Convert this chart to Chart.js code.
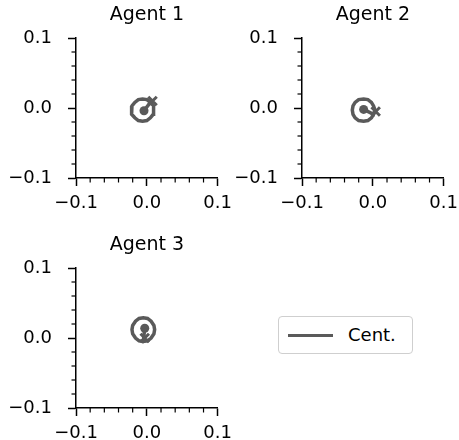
<!DOCTYPE html>
<html>
<head>
<meta charset="utf-8">
<script src="https://cdn.jsdelivr.net/npm/chart.js@4"></script>
<style>
  body { margin: 0; background: #fff; }
  #wrap { position: relative; width: 459px; height: 440px; overflow: hidden; font-family: "DejaVu Sans", sans-serif; }
  .panel { position: absolute; width: 239px; height: 220px; }
  #legend {
    position: absolute; left: 278px; top: 316px; width: 133px; height: 36px;
    border: 1px solid #cfcfcf; border-radius: 4px; background: #fff;
  }
  #legend .swatch { position: absolute; left: 9px; top: 17px; width: 45px; height: 3px; background: #5a5a5a; }
  #legend .label { position: absolute; left: 69px; top: 7px; font-size: 18px; color: #000; }
</style>
</head>
<body>
<div id="wrap">
  <div class="panel" style="left:0;top:0"><canvas id="agent1"></canvas></div>
  <div class="panel" style="left:226px;top:0"><canvas id="agent2"></canvas></div>
  <div class="panel" style="left:0;top:230px"><canvas id="agent3"></canvas></div>
  <div id="legend"><div class="swatch"></div><div class="label">Cent.</div></div>
</div>
<script>
// trajectories: start point, one loop, end point
const agent1X = [-0.004, 0.005, 0.000, -0.006, -0.012, -0.017, -0.021, -0.022, -0.021, -0.017, -0.012, -0.006, 0.000, 0.005, 0.009, 0.010, 0.009, 0.005, 0.008];
const agent1Y = [-0.004, 0.008, 0.012, 0.013, 0.012, 0.008, 0.003, -0.003, -0.009, -0.014, -0.018, -0.019, -0.018, -0.014, -0.009, -0.003, 0.003, 0.008, 0.010];
const agent2X = [-0.013, 0.001, 0.003, 0.001, -0.002, -0.007, -0.013, -0.020, -0.025, -0.028, -0.029, -0.028, -0.025, -0.020, -0.013, -0.007, -0.002, 0.001, 0.004];
const agent2Y = [-0.002, -0.009, -0.003, 0.003, 0.008, 0.012, 0.013, 0.012, 0.008, 0.003, -0.003, -0.009, -0.014, -0.018, -0.019, -0.018, -0.014, -0.009, -0.005];
const agent3X = [-0.003, -0.005, 0.001, 0.006, 0.010, 0.011, 0.010, 0.006, 0.001, -0.005, -0.011, -0.016, -0.020, -0.021, -0.020, -0.016, -0.011, -0.005, -0.003];
const agent3Y = [0.014, -0.005, -0.004, 0.000, 0.006, 0.012, 0.018, 0.024, 0.028, 0.029, 0.028, 0.024, 0.018, 0.012, 0.006, 0.000, -0.004, -0.005, 0.000];

const axisMin = -0.1;
const axisMax = 0.1;
const minorStep = 0.02;
const majorTicks = [-0.1, 0.0, 0.1];

const GRAY = '#5a5a5a';

const isMajor = v => majorTicks.some(m => Math.abs(m - v) < 1e-9);
const fmt = v => {
  if (Math.abs(v) < 1e-9) return '0.0';
  return (v < 0 ? '\u2212' : '') + Math.abs(v).toFixed(1);
};

// short minor ticks, drawn after the chart
const minorTicks = {
  id: 'minorTicks',
  afterDraw(chart) {
    const ctx = chart.ctx;
    const area = chart.chartArea;
    ctx.save();
    ctx.strokeStyle = '#000';
    ctx.lineWidth = 1.2;
    ['x', 'y'].forEach(id => {
      const sc = chart.scales[id];
      sc.ticks.forEach(t => {
        if (isMajor(t.value)) return;
        const p = sc.getPixelForValue(t.value);
        ctx.beginPath();
        if (id === 'x') { ctx.moveTo(p, area.bottom); ctx.lineTo(p, area.bottom + 4.5); }
        else { ctx.moveTo(area.left, p); ctx.lineTo(area.left - 4.5, p); }
        ctx.stroke();
      });
    });
    ctx.restore();
  }
};

function axis(isY) {
  return {
    type: 'linear',
    min: axisMin,
    max: axisMax,
    afterBuildTicks: sc => {
      sc.ticks = [];
      for (let i = 0; i <= 10; i++) sc.ticks.push({ value: +(axisMin + i * minorStep).toFixed(2) });
    },
    afterFit: sc => { if (isY) sc.width = 76; else sc.height = 42; },
    border: { display: true, color: '#000', width: 1.5 },
    grid: {
      drawOnChartArea: false,
      drawTicks: true,
      tickLength: 8,
      tickWidth: 1.5,
      tickColor: c => isMajor(c.tick.value) ? '#000' : 'rgba(0,0,0,0)'
    },
    ticks: {
      autoSkip: false,
      maxRotation: 0,
      color: '#000',
      padding: isY ? 16 : 7,
      font: { family: 'DejaVu Sans', size: 18 },
      callback: v => isMajor(v) ? fmt(v) : ''
    }
  };
}

function makeAgent(canvasId, title, xs, ys) {
  const path = xs.map((x, i) => ({ x, y: ys[i] }));
  const last = path.length - 1;
  new Chart(document.getElementById(canvasId), {
    type: 'scatter',
    data: {
      datasets: [
        {
          label: 'Cent.',
          data: path,
          showLine: true,
          borderColor: GRAY,
          borderWidth: 3.5,
          pointRadius: 0,
          tension: 0
        },
        {
          label: 'start',
          data: [path[0]],
          pointStyle: 'circle',
          pointRadius: 4.5,
          backgroundColor: GRAY,
          borderColor: GRAY,
          borderWidth: 0
        },
        {
          label: 'end',
          data: [path[last]],
          pointStyle: 'crossRot',
          pointRadius: 6,
          borderColor: GRAY,
          borderWidth: 3
        }
      ]
    },
    options: {
      responsive: true,
      maintainAspectRatio: false,
      animation: false,
      layout: { padding: { left: 0, right: 4, top: 0, bottom: 0 } },
      scales: { x: axis(false), y: axis(true) },
      plugins: {
        legend: { display: false },
        tooltip: { enabled: false },
        title: {
          display: true,
          fullSize: false,
          text: title,
          color: '#000',
          font: { family: 'DejaVu Sans', size: 19, weight: 'normal' },
          padding: { top: 4, bottom: 11.2 }
        }
      }
    },
    plugins: [minorTicks]
  });
}

makeAgent('agent1', 'Agent 1', agent1X, agent1Y);
makeAgent('agent2', 'Agent 2', agent2X, agent2Y);
makeAgent('agent3', 'Agent 3', agent3X, agent3Y);
</script>
</body>
</html>
